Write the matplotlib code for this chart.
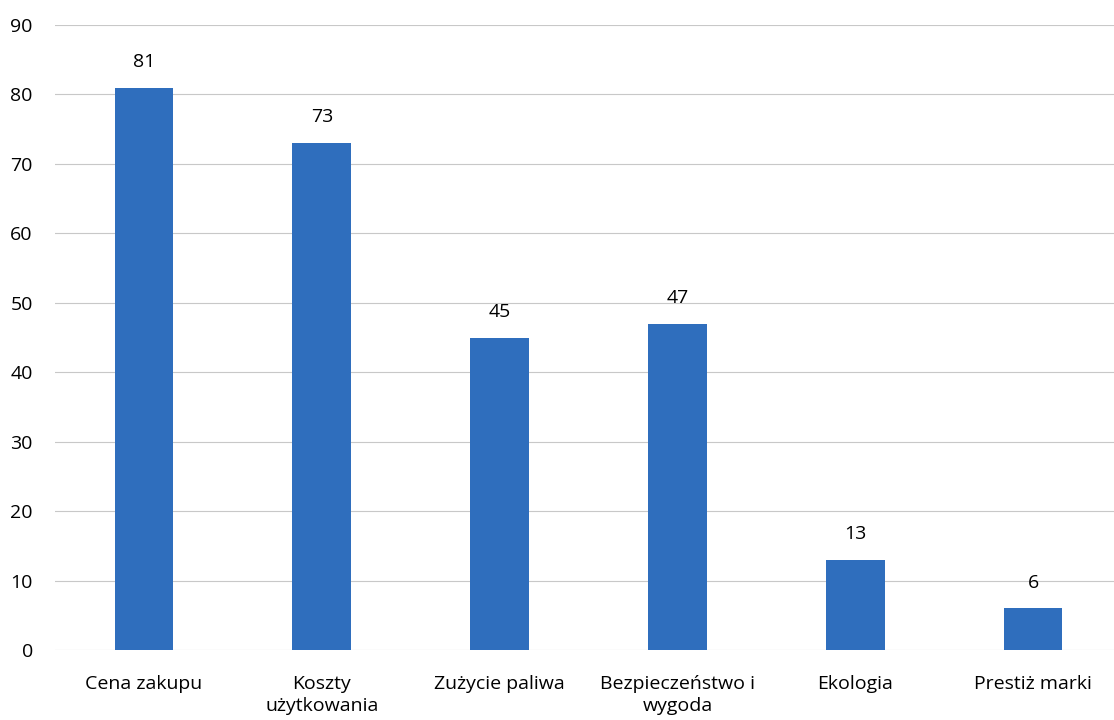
import matplotlib.pyplot as plt

categories = ["Cena zakupu", "Koszty\nużytkowania", "Zużycie paliwa",
              "Bezpieczeństwo i\nwygoda", "Ekologia", "Prestiż marki"]
values = [81, 73, 45, 47, 13, 6]
yticks = [0, 10, 20, 30, 40, 50, 60, 70, 80, 90]

plt.rcParams['font.family'] = ['Open Sans', 'DejaVu Sans']

fig = plt.figure(figsize=(11.14, 7.2), dpi=100)
ax = fig.add_axes([55 / 1114, 1 - 650 / 720, 1067 / 1114, 625 / 720])

x = range(len(categories))
ax.bar(x, values, width=0.33, color='#2f6ebd', zorder=3)
for i, v in enumerate(values):
    ax.text(i, v + 3.7, str(v), ha='center', va='center', fontsize=14)

ax.set_xlim(-0.5, 5.5)
ax.set_ylim(0, 90)
ax.set_yticks(yticks)
ax.set_xticks(list(x))
ax.set_xticklabels(categories, fontsize=14, linespacing=1.3)
ax.tick_params(axis='y', labelsize=14, length=0, pad=16)
ax.tick_params(axis='x', length=0, pad=18)
ax.yaxis.grid(True, color='#c8c8c8', linewidth=0.8, zorder=0)
for s in ax.spines.values():
    s.set_visible(False)

fig.savefig('out.png', dpi=100)
